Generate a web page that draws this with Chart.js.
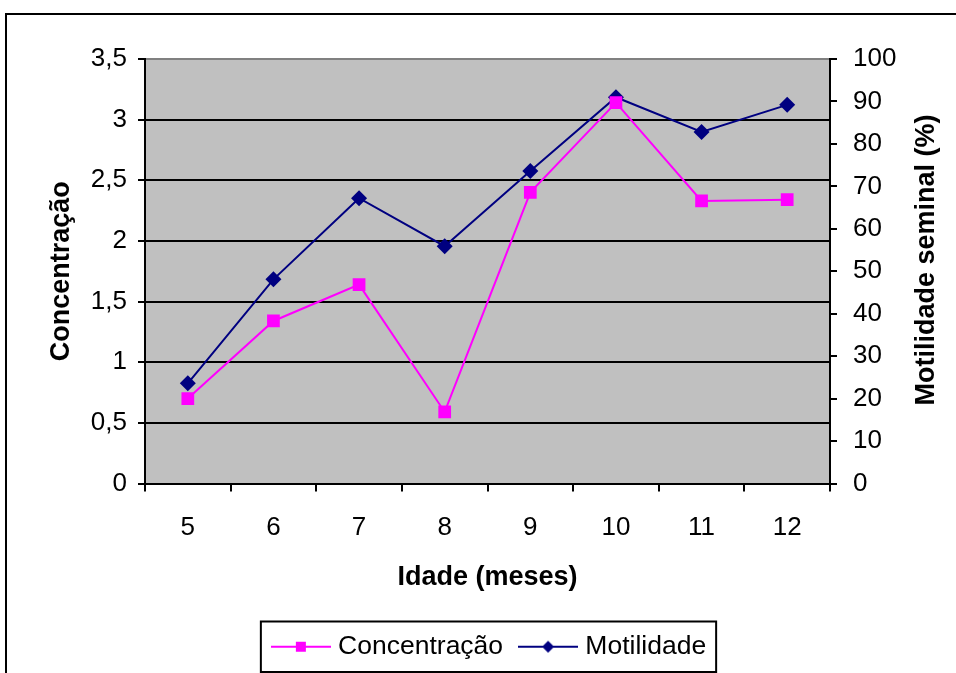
<!DOCTYPE html>
<html>
<head>
<meta charset="utf-8">
<script src="https://cdn.jsdelivr.net/npm/chart.js@4"></script>
<style>
  html, body { margin: 0; padding: 0; background: #fff; }
</style>
</head>
<body>
<canvas id="myChart" width="956" height="673"></canvas>
<script>
const idade = ['5', '6', '7', '8', '9', '10', '11', '12'];
const concentracao = [0.70, 1.34, 1.64, 0.59, 2.40, 3.14, 2.33, 2.34];
const motilidade = [23.6, 48.1, 67.2, 55.9, 73.6, 91.0, 82.8, 89.2];
const leftTicks = { min: 0, max: 3.5, step: 0.5 };
const rightTicks = { min: 0, max: 100, step: 10 };

const FONT = "'Liberation Sans', Arial, sans-serif";
const PINK = '#FF00FF';
const NAVY = '#000080';

// little line + marker image for the legend, like the old excel legend
function legendMark(color, shape) {
  const c = document.createElement('canvas');
  c.width = 60; c.height = 16;
  const g = c.getContext('2d');
  g.strokeStyle = color; g.lineWidth = 2;
  g.beginPath(); g.moveTo(0, 8); g.lineTo(60, 8); g.stroke();
  g.fillStyle = color;
  if (shape === 'rect') {
    g.fillRect(25, 3, 10, 10);
  } else {
    g.beginPath();
    g.moveTo(30, 2); g.lineTo(36, 8); g.lineTo(30, 14); g.lineTo(24, 8);
    g.closePath(); g.fill();
  }
  return c;
}
const marks = [legendMark(PINK, 'rect'), legendMark(NAVY, 'diamond')];

const frame = {
  id: 'frame',
  beforeDraw(chart) {
    const { ctx, chartArea: a } = chart;
    ctx.save();
    ctx.fillStyle = '#fff';
    ctx.fillRect(0, 0, chart.width, chart.height);
    ctx.fillStyle = '#C0C0C0';
    ctx.fillRect(a.left, a.top, a.right - a.left, a.bottom - a.top);
    ctx.strokeStyle = '#000';
    ctx.lineWidth = 2;
    ctx.strokeRect(6, 14, 2000, 2000);
    ctx.restore();
  },
  afterDraw(chart) {
    const { ctx } = chart;
    ctx.save();
    // right axis title reads bottom to top
    ctx.font = 'bold 27px ' + FONT;
    ctx.fillStyle = '#000';
    ctx.textAlign = 'center';
    ctx.textBaseline = 'middle';
    ctx.translate(927, 260);
    ctx.rotate(-Math.PI / 2);
    ctx.fillText('Motilidade seminal (%)', 0, 0);
    ctx.restore();

    // legend border
    const boxes = chart.legend.legendHitBoxes;
    if (boxes && boxes.length) {
      const l = Math.min(...boxes.map(b => b.left)) - 16;
      const r = Math.max(...boxes.map(b => b.left + b.width)) + 10;
      const t = boxes[0].top - 12;
      const h = boxes[0].height + 24;
      ctx.save();
      ctx.strokeStyle = '#000';
      ctx.lineWidth = 2;
      ctx.strokeRect(l, t, r - l, h);
      ctx.restore();
    }
  }
};

const ctx = document.getElementById('myChart').getContext('2d');

new Chart(ctx, {
  type: 'line',
  data: {
    labels: idade,
    datasets: [
      {
        label: 'Concentração',
        data: concentracao,
        yAxisID: 'y',
        borderColor: PINK,
        backgroundColor: PINK,
        borderWidth: 2,
        pointStyle: 'rect',
        pointRadius: 9,
        pointBorderWidth: 0,
        tension: 0
      },
      {
        label: 'Motilidade',
        data: motilidade,
        yAxisID: 'y2',
        borderColor: NAVY,
        backgroundColor: NAVY,
        borderWidth: 2,
        pointStyle: 'rectRot',
        pointRadius: 8,
        pointBorderWidth: 0,
        tension: 0
      }
    ]
  },
  options: {
    responsive: false,
    animation: false,
    layout: { padding: { left: 40, right: 13, top: 59, bottom: 3 } },
    plugins: {
      tooltip: { enabled: false },
      legend: {
        position: 'bottom',
        labels: {
          font: { family: FONT, size: 26.5 },
          color: '#000',
          padding: 21,
          usePointStyle: true,
          pointStyleWidth: 48,
          generateLabels: chart =>
            Chart.defaults.plugins.legend.labels.generateLabels(chart)
              .map((item, i) => Object.assign(item, { pointStyle: marks[i] }))
        }
      }
    },
    scales: {
      x: {
        offset: true,
        grid: {
          offset: true,
          drawOnChartArea: false,
          color: '#000',
          lineWidth: 2,
          tickLength: 8
        },
        border: { color: '#000', width: 2 },
        ticks: {
          color: '#000',
          font: { family: FONT, size: 26 },
          padding: 21,
          maxRotation: 0
        },
        title: {
          display: true,
          text: 'Idade (meses)',
          color: '#000',
          font: { family: FONT, size: 27, weight: 'bold' },
          padding: { top: 0, bottom: 19 }
        },
        afterFit: s => { s.height = 129; }
      },
      y: {
        position: 'left',
        min: leftTicks.min,
        max: leftTicks.max,
        grid: {
          color: c => (c.tick && c.tick.value === leftTicks.max) ? '#808080' : '#000',
          lineWidth: 2,
          tickLength: 7,
          tickColor: '#000'
        },
        border: { color: '#000', width: 2 },
        ticks: {
          stepSize: leftTicks.step,
          color: '#000',
          font: { family: FONT, size: 26 },
          padding: 11,
          callback: v => String(v).replace('.', ',')
        },
        title: {
          display: true,
          text: 'Concentração',
          color: '#000',
          font: { family: FONT, size: 27, weight: 'bold' },
          padding: 5
        },
        afterFit: s => { s.width = 105; }
      },
      y2: {
        position: 'right',
        min: rightTicks.min,
        max: rightTicks.max,
        grid: {
          drawOnChartArea: false,
          color: '#000',
          lineWidth: 2,
          tickLength: 7
        },
        border: { color: '#000', width: 2 },
        ticks: {
          stepSize: rightTicks.step,
          color: '#000',
          font: { family: FONT, size: 26 },
          padding: 16
        },
        afterFit: s => { s.width = 113; }
      }
    }
  },
  plugins: [frame]
});
</script>
</body>
</html>
